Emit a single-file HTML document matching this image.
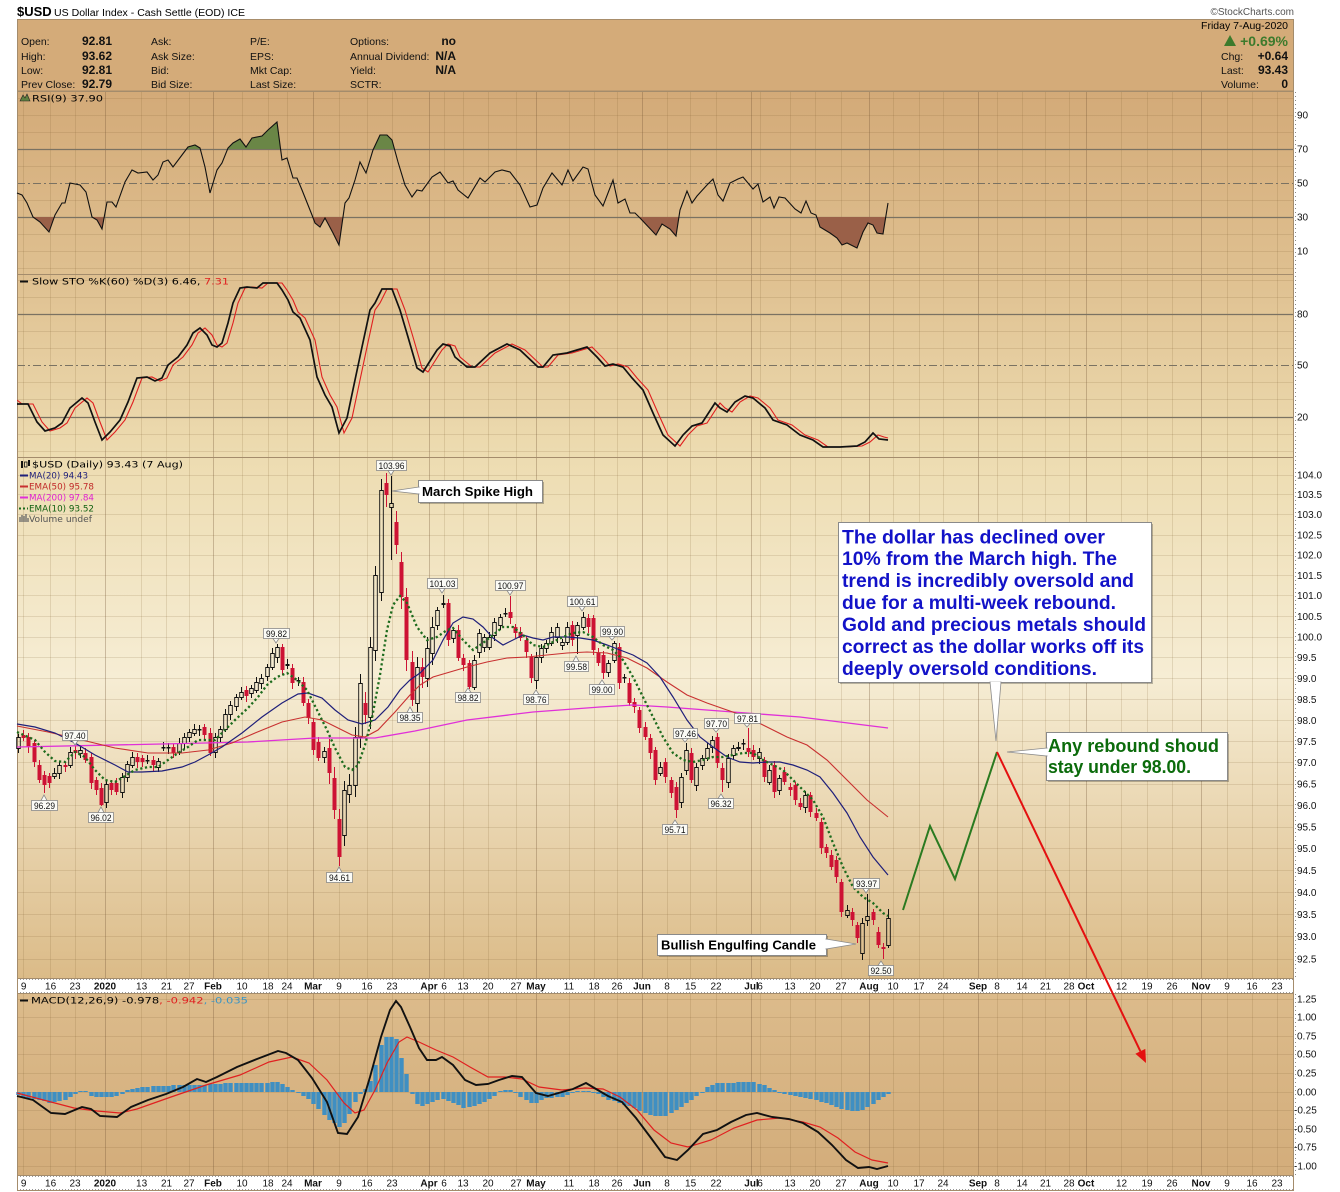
<!DOCTYPE html>
<html><head><meta charset="utf-8">
<style>
html,body{margin:0;padding:0;background:#fff;}
svg{display:block;}
text{font-family:"Liberation Sans",Arial,sans-serif;}
.lg{font-family:"DejaVu Sans","Liberation Sans",sans-serif;font-size:9px;}
.ax{font-size:10px;fill:#111;}
.dl{font-size:10px;fill:#111;text-anchor:middle;}
.db{font-size:10px;fill:#111;text-anchor:middle;font-weight:bold;}
.hd{font-size:10.5px;fill:#111;}
.hv{font-size:12px;fill:#111;font-weight:bold;text-anchor:end;}
.pl{font-size:9px;fill:#111;text-anchor:middle;}
</style></head><body>
<svg width="1340" height="1192" viewBox="0 0 1340 1192">
<defs>
<linearGradient id="gMain" x1="0" y1="91" x2="0" y2="978" gradientUnits="userSpaceOnUse">
<stop offset="0" stop-color="#d3aa78"/>
<stop offset="0.206" stop-color="#dfc090"/>
<stop offset="0.413" stop-color="#eddcb1"/>
<stop offset="0.66" stop-color="#f6edd4"/>
<stop offset="1" stop-color="#dbbb88"/>
</linearGradient>
<linearGradient id="gMacd" x1="0" y1="993" x2="0" y2="1175" gradientUnits="userSpaceOnUse">
<stop offset="0" stop-color="#dcbb8b"/><stop offset="1" stop-color="#d3ad7b"/>
</linearGradient>
<clipPath id="cRsiTop"><rect x="17" y="91" width="1276" height="58"/></clipPath>
<clipPath id="cRsiBot"><rect x="17" y="217" width="1276" height="57"/></clipPath>
<clipPath id="cSto"><rect x="17" y="274" width="872" height="183"/></clipPath>
</defs>

<!-- title -->
<text x="17" y="16" font-size="13" font-weight="bold">$USD</text>
<text x="54" y="16" font-size="10" textLength="191" lengthAdjust="spacingAndGlyphs">US Dollar Index - Cash Settle (EOD) ICE</text>
<text x="1294" y="15" font-size="10" text-anchor="end" fill="#555">©StockCharts.com</text>

<!-- header box -->
<rect x="17.5" y="19.5" width="1276" height="71.5" fill="#d4ab79" stroke="#a88d6b"/>
<g class="hd">
<text x="21" y="45">Open:</text><text x="21" y="60">High:</text><text x="21" y="74">Low:</text><text x="21" y="88">Prev Close:</text>
<text x="151" y="45">Ask:</text><text x="151" y="60">Ask Size:</text><text x="151" y="74">Bid:</text><text x="151" y="88">Bid Size:</text>
<text x="250" y="45">P/E:</text><text x="250" y="60">EPS:</text><text x="250" y="74">Mkt Cap:</text><text x="250" y="88">Last Size:</text>
<text x="350" y="45">Options:</text><text x="350" y="60">Annual Dividend:</text><text x="350" y="74">Yield:</text><text x="350" y="88">SCTR:</text>
</g>
<g class="hv">
<text x="112" y="45">92.81</text><text x="112" y="60">93.62</text><text x="112" y="74">92.81</text><text x="112" y="88">92.79</text>
<text x="456" y="45">no</text><text x="456" y="60">N/A</text><text x="456" y="74">N/A</text>
</g>
<text x="1288" y="29" font-size="10.5" text-anchor="end">Friday  7-Aug-2020</text>
<polygon points="1224,46 1236,46 1230,35" fill="#3c7a2c"/>
<text x="1288" y="46" font-size="14" font-weight="bold" text-anchor="end" fill="#3c7a2c">+0.69%</text>
<text x="1221" y="60" class="hd">Chg:</text><text x="1288" y="60" class="hv">+0.64</text>
<text x="1221" y="74" class="hd">Last:</text><text x="1288" y="74" class="hv">93.43</text>
<text x="1221" y="88" class="hd">Volume:</text><text x="1288" y="88" class="hv">0</text>

<!-- panel backgrounds -->
<rect x="17" y="91" width="1276" height="887" fill="url(#gMain)"/>
<rect x="17" y="993" width="1276" height="182" fill="url(#gMacd)"/>

<!-- vertical gridlines -->
<path fill="none" stroke="rgba(125,92,50,0.17)" stroke-width="1" d="M23.5 91V1175M50.5 91V1175M75.5 91V1175M141.5 91V1175M166.5 91V1175M189.5 91V1175M242.5 91V1175M268.5 91V1175M287.5 91V1175M339.5 91V1175M367.5 91V1175M392.5 91V1175M444.5 91V1175M463.5 91V1175M488.5 91V1175M516.5 91V1175M569.5 91V1175M594.5 91V1175M617.5 91V1175M667.5 91V1175M690.5 91V1175M716.5 91V1175M760.5 91V1175M790.5 91V1175M815.5 91V1175M841.5 91V1175M893.5 91V1175M919.5 91V1175M943.5 91V1175M997.5 91V1175M1022.5 91V1175M1045.5 91V1175M1069.5 91V1175M1121.5 91V1175M1147.5 91V1175M1172.5 91V1175M1227.5 91V1175M1252.5 91V1175M1277.5 91V1175"/>
<path fill="none" stroke="rgba(115,85,55,0.33)" stroke-width="1" d="M105.5 91V1175M213.5 91V1175M313.5 91V1175M429.5 91V1175M536.5 91V1175M642.5 91V1175M751.5 91V1175M869.5 91V1175M978.5 91V1175M1086.5 91V1175M1201.5 91V1175"/>

<!-- horizontal gridlines -->
<path fill="none" stroke="rgba(125,92,50,0.16)" stroke-width="1" d="M17 98.5H1293M17 115.5H1293M17 132.5H1293M17 166.5H1293M17 200.5H1293M17 234.5H1293M17 251.5H1293M17 268.5H1293
M17 280.5H1293M17 297.5H1293M17 331.5H1293M17 348.5H1293M17 382.5H1293M17 399.5H1293M17 434.5H1293M17 451.5H1293
M17 475.5H1293M17 494.5H1293M17 514.5H1293M17 535.5H1293M17 555.5H1293M17 575.5H1293M17 595.5H1293M17 616.5H1293M17 637.5H1293M17 657.5H1293M17 678.5H1293M17 699.5H1293M17 720.5H1293M17 741.5H1293M17 762.5H1293M17 784.5H1293M17 805.5H1293M17 827.5H1293M17 848.5H1293M17 870.5H1293M17 892.5H1293M17 914.5H1293M17 936.5H1293M17 959.5H1293
M17 999.5H1293M17 1017.5H1293M17 1036.5H1293M17 1054.5H1293M17 1073.5H1293M17 1092.5H1293M17 1110.5H1293M17 1129.5H1293M17 1147.5H1293M17 1166.5H1293"/>
<path fill="none" stroke="#7a7262" stroke-width="1.2" d="M17 149.5H1293M17 217.5H1293M17 314.5H1293M17 417.5H1293"/>
<path fill="none" stroke="#7a7262" stroke-width="1.1" stroke-dasharray="8,3,2,3" d="M17 183.5H1293M17 365.5H1293"/>

<!-- date bands -->
<rect x="17" y="978.5" width="1276" height="14" fill="#fff"/>
<rect x="17" y="1175.5" width="1276" height="14" fill="#fff"/>
<path fill="none" stroke="#999" stroke-dasharray="1,2" d="M17 979.5H1293M17 992.5H1293M17 1176.5H1293M17 1189.5H1293"/>

<!-- borders -->
<path fill="none" stroke="#a48c6c" stroke-width="1" d="M17 91.5H1293M17 274.5H1293M17 457.5H1293M17 978.5H1293M17 993.5H1293M17 1175.5H1293M17 1190.5H1293M17.5 19V1191M1293.5 19V1191"/>
<path fill="none" stroke="#888" stroke-dasharray="1,3" d="M1295.5 92V978M1295.5 994V1175"/>

<!-- right axis labels -->
<g class="ax">
<text x="1297" y="118.5">90</text><text x="1297" y="152.5">70</text><text x="1297" y="186.5">50</text><text x="1297" y="220.5">30</text><text x="1297" y="254.5">10</text>
<text x="1297" y="317.5">80</text><text x="1297" y="368.5">50</text><text x="1297" y="420.5">20</text>
<text x="1297" y="478.5">104.0</text><text x="1297" y="498">103.5</text><text x="1297" y="518">103.0</text><text x="1297" y="538.5">102.5</text><text x="1297" y="558.5">102.0</text><text x="1297" y="579">101.5</text><text x="1297" y="599">101.0</text><text x="1297" y="620">100.5</text><text x="1297" y="640.5">100.0</text><text x="1297" y="661">99.5</text><text x="1297" y="682">99.0</text><text x="1297" y="703">98.5</text><text x="1297" y="724">98.0</text><text x="1297" y="745">97.5</text><text x="1297" y="766">97.0</text><text x="1297" y="787.5">96.5</text><text x="1297" y="809">96.0</text><text x="1297" y="830.5">95.5</text><text x="1297" y="852">95.0</text><text x="1297" y="874">94.5</text><text x="1297" y="896">94.0</text><text x="1297" y="918">93.5</text><text x="1297" y="940">93.0</text><text x="1297" y="962.5">92.5</text>
<text x="1297" y="1002.5">1.25</text><text x="1297" y="1020.5">1.00</text><text x="1297" y="1039.5">0.75</text><text x="1297" y="1057.5">0.50</text><text x="1297" y="1076.5">0.25</text><text x="1297" y="1095.5">0.00</text><text x="1294" y="1113.5">-0.25</text><text x="1294" y="1132.5">-0.50</text><text x="1294" y="1150.5">-0.75</text><text x="1294" y="1169.5">-1.00</text>
</g>

<!-- date labels top -->
<g>
<text class="dl" x="23.6" y="989.5">9</text><text class="dl" x="50.6" y="989.5">16</text><text class="dl" x="75" y="989.5">23</text><text class="db" x="105" y="989.5">2020</text><text class="dl" x="141.6" y="989.5">13</text><text class="dl" x="166.5" y="989.5">21</text><text class="dl" x="189" y="989.5">27</text><text class="db" x="213" y="989.5">Feb</text><text class="dl" x="242" y="989.5">10</text><text class="dl" x="268" y="989.5">18</text><text class="dl" x="287" y="989.5">24</text><text class="db" x="313" y="989.5">Mar</text><text class="dl" x="339" y="989.5">9</text><text class="dl" x="367" y="989.5">16</text><text class="dl" x="392" y="989.5">23</text><text class="db" x="429" y="989.5">Apr</text><text class="dl" x="444" y="989.5">6</text><text class="dl" x="463" y="989.5">13</text><text class="dl" x="488" y="989.5">20</text><text class="dl" x="516" y="989.5">27</text><text class="db" x="536" y="989.5">May</text><text class="dl" x="569" y="989.5">11</text><text class="dl" x="594" y="989.5">18</text><text class="dl" x="617" y="989.5">26</text><text class="db" x="642" y="989.5">Jun</text><text class="dl" x="667" y="989.5">8</text><text class="dl" x="690.6" y="989.5">15</text><text class="dl" x="716" y="989.5">22</text><text class="db" x="751.5" y="989.5">Jul</text><text class="dl" x="760" y="989.5">6</text><text class="dl" x="790" y="989.5">13</text><text class="dl" x="815" y="989.5">20</text><text class="dl" x="841" y="989.5">27</text><text class="db" x="869" y="989.5">Aug</text><text class="dl" x="893" y="989.5">10</text><text class="dl" x="919" y="989.5">17</text><text class="dl" x="943" y="989.5">24</text><text class="db" x="978" y="989.5">Sep</text><text class="dl" x="997" y="989.5">8</text><text class="dl" x="1022" y="989.5">14</text><text class="dl" x="1045.5" y="989.5">21</text><text class="dl" x="1069" y="989.5">28</text><text class="db" x="1086" y="989.5">Oct</text><text class="dl" x="1121.5" y="989.5">12</text><text class="dl" x="1147" y="989.5">19</text><text class="dl" x="1172" y="989.5">26</text><text class="db" x="1201" y="989.5">Nov</text><text class="dl" x="1227" y="989.5">9</text><text class="dl" x="1252" y="989.5">16</text><text class="dl" x="1277" y="989.5">23</text>
</g>
<!-- date labels bottom -->
<g>
<text class="dl" x="23.6" y="1186.5">9</text><text class="dl" x="50.6" y="1186.5">16</text><text class="dl" x="75" y="1186.5">23</text><text class="db" x="105" y="1186.5">2020</text><text class="dl" x="141.6" y="1186.5">13</text><text class="dl" x="166.5" y="1186.5">21</text><text class="dl" x="189" y="1186.5">27</text><text class="db" x="213" y="1186.5">Feb</text><text class="dl" x="242" y="1186.5">10</text><text class="dl" x="268" y="1186.5">18</text><text class="dl" x="287" y="1186.5">24</text><text class="db" x="313" y="1186.5">Mar</text><text class="dl" x="339" y="1186.5">9</text><text class="dl" x="367" y="1186.5">16</text><text class="dl" x="392" y="1186.5">23</text><text class="db" x="429" y="1186.5">Apr</text><text class="dl" x="444" y="1186.5">6</text><text class="dl" x="463" y="1186.5">13</text><text class="dl" x="488" y="1186.5">20</text><text class="dl" x="516" y="1186.5">27</text><text class="db" x="536" y="1186.5">May</text><text class="dl" x="569" y="1186.5">11</text><text class="dl" x="594" y="1186.5">18</text><text class="dl" x="617" y="1186.5">26</text><text class="db" x="642" y="1186.5">Jun</text><text class="dl" x="667" y="1186.5">8</text><text class="dl" x="690.6" y="1186.5">15</text><text class="dl" x="716" y="1186.5">22</text><text class="db" x="751.5" y="1186.5">Jul</text><text class="dl" x="760" y="1186.5">6</text><text class="dl" x="790" y="1186.5">13</text><text class="dl" x="815" y="1186.5">20</text><text class="dl" x="841" y="1186.5">27</text><text class="db" x="869" y="1186.5">Aug</text><text class="dl" x="893" y="1186.5">10</text><text class="dl" x="919" y="1186.5">17</text><text class="dl" x="943" y="1186.5">24</text><text class="db" x="978" y="1186.5">Sep</text><text class="dl" x="997" y="1186.5">8</text><text class="dl" x="1022" y="1186.5">14</text><text class="dl" x="1045.5" y="1186.5">21</text><text class="dl" x="1069" y="1186.5">28</text><text class="db" x="1086" y="1186.5">Oct</text><text class="dl" x="1121.5" y="1186.5">12</text><text class="dl" x="1147" y="1186.5">19</text><text class="dl" x="1172" y="1186.5">26</text><text class="db" x="1201" y="1186.5">Nov</text><text class="dl" x="1227" y="1186.5">9</text><text class="dl" x="1252" y="1186.5">16</text><text class="dl" x="1277" y="1186.5">23</text>
</g>

<!-- RSI panel -->
<g clip-path="url(#cRsiTop)"><polygon fill="#6a8646" points="17,193 22,195 27,203 33,217 40,222 49,232 55,215 62,203 65,203 70,183 75,184 80,185 86,192 92,217 97,220 102,229 107,202 112,202 116,207 125,182 132,170 138,173 147,172 153,180 158,175 163,162 168,160 173,167 182,155 188,147 195,145 200,148 205,167 210,193 217,170 222,163 228,148 233,143 240,139 246,147 252,138 262,136 268,130 277,122 282,160 287,158 293,178 297,178 302,190 312,215 315,223 320,227 325,218 333,233 339,245 345,203 349,198 355,180 360,162 366,173 373,150 380,135 387,135 392,140 398,162 405,185 412,197 417,190 422,191 432,177 440,172 448,183 453,181 458,190 468,198 480,178 485,182 495,172 502,170 510,172 520,185 530,207 537,205 543,188 552,173 562,185 568,170 573,181 583,167 588,169 595,195 603,206 613,180 618,203 625,199 630,213 635,213 640,218 656,235 662,224 670,229 676,236 680,210 687,191 692,203 697,196 707,185 713,179 718,195 723,201 730,183 738,179 743,177 753,189 758,184 763,202 770,197 774,208 779,197 785,198 795,209 801,213 806,201 811,213 816,215 820,227 830,233 837,238 842,245 847,243 857,248 863,232 868,223 873,225 877,233 883,234 888,203 888,149 17,149"/></g>
<g clip-path="url(#cRsiBot)"><polygon fill="#9a6048" points="17,193 22,195 27,203 33,217 40,222 49,232 55,215 62,203 65,203 70,183 75,184 80,185 86,192 92,217 97,220 102,229 107,202 112,202 116,207 125,182 132,170 138,173 147,172 153,180 158,175 163,162 168,160 173,167 182,155 188,147 195,145 200,148 205,167 210,193 217,170 222,163 228,148 233,143 240,139 246,147 252,138 262,136 268,130 277,122 282,160 287,158 293,178 297,178 302,190 312,215 315,223 320,227 325,218 333,233 339,245 345,203 349,198 355,180 360,162 366,173 373,150 380,135 387,135 392,140 398,162 405,185 412,197 417,190 422,191 432,177 440,172 448,183 453,181 458,190 468,198 480,178 485,182 495,172 502,170 510,172 520,185 530,207 537,205 543,188 552,173 562,185 568,170 573,181 583,167 588,169 595,195 603,206 613,180 618,203 625,199 630,213 635,213 640,218 656,235 662,224 670,229 676,236 680,210 687,191 692,203 697,196 707,185 713,179 718,195 723,201 730,183 738,179 743,177 753,189 758,184 763,202 770,197 774,208 779,197 785,198 795,209 801,213 806,201 811,213 816,215 820,227 830,233 837,238 842,245 847,243 857,248 863,232 868,223 873,225 877,233 883,234 888,203 888,217 17,217"/></g>
<polyline fill="none" stroke="#111" stroke-width="1.1" points="17,193 22,195 27,203 33,217 40,222 49,232 55,215 62,203 65,203 70,183 75,184 80,185 86,192 92,217 97,220 102,229 107,202 112,202 116,207 125,182 132,170 138,173 147,172 153,180 158,175 163,162 168,160 173,167 182,155 188,147 195,145 200,148 205,167 210,193 217,170 222,163 228,148 233,143 240,139 246,147 252,138 262,136 268,130 277,122 282,160 287,158 293,178 297,178 302,190 312,215 315,223 320,227 325,218 333,233 339,245 345,203 349,198 355,180 360,162 366,173 373,150 380,135 387,135 392,140 398,162 405,185 412,197 417,190 422,191 432,177 440,172 448,183 453,181 458,190 468,198 480,178 485,182 495,172 502,170 510,172 520,185 530,207 537,205 543,188 552,173 562,185 568,170 573,181 583,167 588,169 595,195 603,206 613,180 618,203 625,199 630,213 635,213 640,218 656,235 662,224 670,229 676,236 680,210 687,191 692,203 697,196 707,185 713,179 718,195 723,201 730,183 738,179 743,177 753,189 758,184 763,202 770,197 774,208 779,197 785,198 795,209 801,213 806,201 811,213 816,215 820,227 830,233 837,238 842,245 847,243 857,248 863,232 868,223 873,225 877,233 883,234 888,203"/>
<polygon points="20,101 23,95 25,98 27,94 30,101" fill="#5f8040" stroke="#222" stroke-width="0.6"/>
<text class="lg" x="32" y="101.5" textLength="71" lengthAdjust="spacingAndGlyphs">RSI(9) 37.90</text>

<!-- STO panel -->
<g clip-path="url(#cSto)">
<polyline transform="translate(5,0)" fill="none" stroke="#e02020" stroke-width="1.1" points="12,400 17,404 28,404 37,422 45,431 55,428 62,423 70,408 82,398 88,403 95,422 102,440 110,432 120,420 128,402 137,378 147,377 155,381 162,378 168,365 178,357 187,345 193,333 200,328 207,335 212,345 217,347 222,343 228,323 233,303 240,288 247,287 257,288 263,283 277,283 282,290 288,300 293,312 300,318 310,340 317,377 325,395 332,407 339,433 347,418 355,380 362,347 370,310 375,303 382,289 392,289 400,310 408,337 417,368 423,372 430,361 437,350 443,344 450,346 455,357 467,367 475,367 490,353 507,344 520,350 538,367 543,367 553,355 567,353 577,350 587,347 597,357 605,366 613,364 623,367 632,378 643,390 653,413 663,435 675,446 683,435 692,426 702,423 715,403 720,408 727,412 735,402 745,396 753,398 765,408 773,420 787,425 800,435 813,440 823,447 840,447 857,446 865,442 873,435 879,437 883,438"/>
</g>
<polyline fill="none" stroke="#111" stroke-width="1.7" points="17,404 28,404 37,422 45,431 55,428 62,423 70,408 82,398 88,403 95,422 102,440 110,432 120,420 128,402 137,378 147,377 155,381 162,378 168,365 178,357 187,345 193,333 200,328 207,335 212,345 217,347 222,343 228,323 233,303 240,288 247,287 257,288 263,283 277,283 282,290 288,300 293,312 300,318 310,340 317,377 325,395 332,407 339,433 347,418 355,380 362,347 370,310 375,303 382,289 392,289 400,310 408,337 417,368 423,372 430,361 437,350 443,344 450,346 455,357 467,367 475,367 490,353 507,344 520,350 538,367 543,367 553,355 567,353 577,350 587,347 597,357 605,366 613,364 623,367 632,378 643,390 653,413 663,435 675,446 683,435 692,426 702,423 715,403 720,408 727,412 735,402 745,396 753,398 765,408 773,420 787,425 800,435 813,440 823,447 840,447 857,446 865,442 873,433 879,439 888,440"/>
<line x1="20" y1="281.5" x2="28" y2="281.5" stroke="#111" stroke-width="2"/>
<text class="lg" x="32" y="284.5" textLength="197" lengthAdjust="spacingAndGlyphs">Slow STO %K(60) %D(3) 6.46, <tspan fill="#e02020">7.31</tspan></text>

<!-- candles: red -->
<path fill="none" stroke="#cd1234" stroke-width="1" d="M23.5 730V741M28.5 733V753M34.5 740V767M39.5 760V783M44.5 771V793M49.5 773V788M65.5 762V772M75.5 746V759M85.5 748V763M91.5 753V789M96.5 777V795M101.5 783V806M111.5 780V795M116.5 778V795M137.5 753V768M142.5 755V767M153.5 756V771M173.5 744V758M204.5 724V740M210.5 728V756M246.5 686V702M282.5 644V675M292.5 664V689M303.5 677V706M308.5 699V724M313.5 719V755M318.5 737V761M329.5 739V784M334.5 767V819M339.5 809V866M365.5 692V724M386.5 473V507M396.5 511V554M401.5 552V609M406.5 588V671M412.5 651V706M422.5 658V688M448.5 599V646M458.5 625V661M463.5 654V671M469.5 660V689M510.5 596V624M515.5 624V638M520.5 627V641M526.5 636V658M531.5 654V683M572.5 621V646M588.5 614V633M593.5 615V655M598.5 648V666M603.5 651V679M619.5 643V689M629.5 678V706M634.5 698V713M639.5 707V733M645.5 722V740M650.5 734V759M655.5 747V785M665.5 758V783M671.5 777V798M676.5 782V818M691.5 748V783M717.5 733V768M722.5 763V792M748.5 728V757M753.5 745V760M764.5 757V782M774.5 761V798M784.5 767V785M790.5 783V796M795.5 782V805M800.5 798V810M810.5 792V817M816.5 808V821M821.5 818V854M826.5 844V858M831.5 850V870M836.5 856V883M841.5 879V917M852.5 908V926M857.5 922V943M873.5 909V925M878.5 927V948M883.5 943V959"/>
<path fill="none" stroke="#cd1234" stroke-width="4" d="M23.5 735V738M28.5 737V747M34.5 743V762M39.5 765V780M44.5 775V785M49.5 776V783M65.5 765V767M75.5 750V753M85.5 753V760M91.5 757V783M96.5 780V790M101.5 788V805M111.5 783V790M116.5 783V792M137.5 757V762M142.5 758V762M153.5 760V765M173.5 747V753M204.5 727V735M210.5 733V753M246.5 690V696M282.5 647V670M292.5 668V683M303.5 682V703M308.5 703V718M313.5 722V750M318.5 742V758M329.5 748V773M334.5 778V810M339.5 819V857M365.5 703V715M386.5 483V495M396.5 522V545M401.5 562V597M406.5 597V660M412.5 662V700M422.5 667V677M448.5 603V640M458.5 630V658M463.5 658V665M469.5 663V687M510.5 612V618M515.5 627V633M520.5 632V638M526.5 640V652M531.5 657V678M572.5 625V640M588.5 618V627M593.5 618V650M598.5 653V663M603.5 655V673M619.5 647V683M629.5 683V703M634.5 702V707M639.5 710V728M645.5 727V737M650.5 738V753M655.5 750V780M665.5 762V777M671.5 780V793M676.5 787V810M691.5 753V780M717.5 737V763M722.5 768V780M748.5 748V752M753.5 750V757M764.5 760V777M774.5 765V792M784.5 772V782M790.5 787V790M795.5 785V800M800.5 803V807M810.5 795V812M816.5 813V818M821.5 822V848M826.5 847V853M831.5 855V867M836.5 860V877M841.5 882V912M852.5 912V920M857.5 925V938M873.5 912V920M878.5 932V945M883.5 947V949"/>
<!-- candles: black filled -->
<path fill="none" stroke="#111" stroke-width="1" d="M147.5 755V764M163.5 742V751M168.5 743V754M199.5 725V736M287.5 659V669M298.5 677V686M443.5 595V608M505.5 608V617M624.5 674V683M743.5 739V750"/>
<path fill="none" stroke="#111" stroke-width="4" d="M147.5 760V761.5M163.5 747V748.5M168.5 747V748.5M199.5 729V730.5M287.5 664V666M298.5 680V681.5M443.5 603V605M505.5 613V614.5M624.5 677V678.5M743.5 743V744.5"/>
<!-- candles: hollow -->
<path fill="none" stroke="#111" stroke-width="1" d="M18.5 734V737M18.5 748V753M54.5 768V773M54.5 776V779M59.5 761V765M59.5 773V779M70.5 747V752M70.5 765V768M80.5 747V750M80.5 753V758M106.5 780V784M106.5 802V808M122.5 773V777M122.5 792V798M127.5 761V764M127.5 777V782M132.5 752V757M132.5 765V768M158.5 758V761M158.5 767V772M179.5 738V743M179.5 752V755M184.5 733V737M184.5 743V749M189.5 729V732M189.5 737V742M194.5 724V729M194.5 733V736M215.5 733V737M215.5 752V758M220.5 726V729M220.5 737V742M225.5 709V714M225.5 729V732M230.5 701V705M230.5 714V720M236.5 694V697M236.5 706V711M241.5 687V692M241.5 697V700M251.5 685V688M251.5 693V698M256.5 677V682M256.5 690V693M261.5 674V678M261.5 683V689M267.5 664V667M267.5 676V681M272.5 648V653M272.5 667V670M277.5 644V647M277.5 657V663M324.5 747V751M324.5 757V763M344.5 781V790M344.5 835V846M349.5 774V785M349.5 794V803M355.5 727V737M355.5 785V797M360.5 674V683M360.5 737V748M370.5 637V647M370.5 717V729M375.5 566V575M375.5 650V661M381.5 479V490M381.5 592V601M391.5 476V503M391.5 507V560M417.5 657V667M417.5 703V715M427.5 637V648M427.5 678V687M432.5 617V627M432.5 653V665M437.5 607V610M437.5 625V630M453.5 627V630M453.5 638V643M474.5 655V660M474.5 687V690M479.5 629V633M479.5 652V658M484.5 634V637M484.5 647V652M489.5 632V637M489.5 647V650M494.5 618V622M494.5 635V641M500.5 614V617M500.5 625V630M536.5 652V657M536.5 680V689M541.5 644V648M541.5 657V663M546.5 640V643M546.5 648V653M551.5 627V632M551.5 643V646M557.5 623V627M557.5 637V643M562.5 639V642M562.5 645V650M567.5 622V627M567.5 642V645M577.5 622V625M577.5 635V654M583.5 612V617M583.5 627V630M608.5 660V663M608.5 672V677M614.5 641V643M614.5 660V663M660.5 762V767M660.5 773V776M681.5 773V777M681.5 802V808M686.5 743V750M686.5 770V775M696.5 763V767M696.5 785V791M702.5 755V758M702.5 765V770M707.5 743V748M707.5 758V761M712.5 736V740M712.5 747V753M728.5 754V758M728.5 782V788M733.5 745V748M733.5 755V760M738.5 742V747M738.5 748V751M759.5 748V752M759.5 758V764M769.5 765V770M769.5 782V785M779.5 775V778M779.5 790V795M805.5 791V795M805.5 807V813M847.5 905V910M847.5 915V918M862.5 918V923M862.5 953V960M867.5 894V916M867.5 920V926M888.5 909V918M888.5 945V948"/>
<path fill="none" stroke="#111" stroke-width="0.9" d="M16.7 737.5h3.6v11h-3.6zM52.7 773.5h3.6v3h-3.6zM57.7 765.5h3.6v8h-3.6zM68.7 752.5h3.6v13h-3.6zM78.7 750.5h3.6v3h-3.6zM104.7 784.5h3.6v18h-3.6zM120.7 777.5h3.6v15h-3.6zM125.7 764.5h3.6v13h-3.6zM130.7 757.5h3.6v8h-3.6zM156.7 761.5h3.6v6h-3.6zM177.7 743.5h3.6v9h-3.6zM182.7 737.5h3.6v6h-3.6zM187.7 732.5h3.6v5h-3.6zM192.7 729.5h3.6v4h-3.6zM213.7 737.5h3.6v15h-3.6zM218.7 729.5h3.6v8h-3.6zM223.7 714.5h3.6v15h-3.6zM228.7 705.5h3.6v9h-3.6zM234.7 697.5h3.6v9h-3.6zM239.7 692.5h3.6v5h-3.6zM249.7 688.5h3.6v5h-3.6zM254.7 682.5h3.6v8h-3.6zM259.7 678.5h3.6v5h-3.6zM265.7 667.5h3.6v9h-3.6zM270.7 653.5h3.6v14h-3.6zM275.7 647.5h3.6v10h-3.6zM322.7 751.5h3.6v6h-3.6zM342.7 790.5h3.6v45h-3.6zM347.7 785.5h3.6v9h-3.6zM353.7 737.5h3.6v48h-3.6zM358.7 683.5h3.6v54h-3.6zM368.7 647.5h3.6v70h-3.6zM373.7 575.5h3.6v75h-3.6zM379.7 490.5h3.6v102h-3.6zM389.7 503.5h3.6v4h-3.6zM415.7 667.5h3.6v36h-3.6zM425.7 648.5h3.6v30h-3.6zM430.7 627.5h3.6v26h-3.6zM435.7 610.5h3.6v15h-3.6zM451.7 630.5h3.6v8h-3.6zM472.7 660.5h3.6v27h-3.6zM477.7 633.5h3.6v19h-3.6zM482.7 637.5h3.6v10h-3.6zM487.7 637.5h3.6v10h-3.6zM492.7 622.5h3.6v13h-3.6zM498.7 617.5h3.6v8h-3.6zM534.7 657.5h3.6v23h-3.6zM539.7 648.5h3.6v9h-3.6zM544.7 643.5h3.6v5h-3.6zM549.7 632.5h3.6v11h-3.6zM555.7 627.5h3.6v10h-3.6zM560.7 642.5h3.6v3h-3.6zM565.7 627.5h3.6v15h-3.6zM575.7 625.5h3.6v10h-3.6zM581.7 617.5h3.6v10h-3.6zM606.7 663.5h3.6v9h-3.6zM612.7 643.5h3.6v17h-3.6zM658.7 767.5h3.6v6h-3.6zM679.7 777.5h3.6v25h-3.6zM684.7 750.5h3.6v20h-3.6zM694.7 767.5h3.6v18h-3.6zM700.7 758.5h3.6v7h-3.6zM705.7 748.5h3.6v10h-3.6zM710.7 740.5h3.6v7h-3.6zM726.7 758.5h3.6v24h-3.6zM731.7 748.5h3.6v7h-3.6zM736.7 747.5h3.6v1h-3.6zM757.7 752.5h3.6v6h-3.6zM767.7 770.5h3.6v12h-3.6zM777.7 778.5h3.6v12h-3.6zM803.7 795.5h3.6v12h-3.6zM845.7 910.5h3.6v5h-3.6zM860.7 923.5h3.6v30h-3.6zM865.7 916.5h3.6v4h-3.6zM886.7 918.5h3.6v27h-3.6z"/>

<!-- moving averages -->
<polyline fill="none" stroke="#e030d8" stroke-width="1.3" points="17,747 162,744 248,742 315,738 375,738 415,731 467,720 533,712 600,707 633,705 667,707 733,712 800,717 888,728"/>
<polyline fill="none" stroke="#c83030" stroke-width="1.1" points="17,726 48,732 82,740 115,748 148,753 182,753 208,750 232,743 255,733 282,722 305,717 322,720 338,728 352,735 365,737 378,730 395,712 410,695 420,685 433,677 450,672 467,667 487,662 507,658 527,657 547,655 567,653 587,652 607,653 627,658 647,668 667,682 687,695 707,703 727,710 747,717 767,727 787,737 807,745 827,760 847,780 867,800 888,817"/>
<polyline fill="none" stroke="#1f1f7a" stroke-width="1.2" points="17,724 35,727 55,733 75,743 95,755 115,765 128,772 142,772 162,771 182,767 195,762 208,755 222,747 242,733 262,717 282,703 298,694 308,693 322,698 335,710 348,720 362,724 375,720 388,707 400,690 410,680 420,673 433,660 443,640 453,623 463,617 473,619 483,627 493,638 503,645 513,640 523,635 533,638 543,640 553,637 567,637 580,638 593,640 607,645 620,650 633,655 647,663 660,677 673,697 687,720 700,737 713,747 727,757 740,762 753,763 767,762 780,762 793,765 807,770 820,777 833,793 847,813 860,837 873,857 888,875"/>
<polyline fill="none" stroke="#1d6b1d" stroke-width="2.3" stroke-dasharray="2.2,2.6" points="17,732 35,740 45,752 55,761 65,762 75,752 85,757 95,770 105,780 115,782 125,776 135,770 148,767 158,767 168,760 178,753 188,747 198,740 208,740 215,740 225,730 235,720 248,708 258,697 267,685 277,677 287,673 297,680 307,690 317,710 327,730 335,748 345,767 352,770 358,765 365,745 372,718 380,675 387,630 393,605 400,596 407,603 417,627 427,640 437,637 447,630 453,628 463,640 473,650 483,643 493,635 503,627 513,627 523,635 533,645 543,647 553,642 563,637 573,633 583,632 593,637 603,645 613,650 623,660 633,677 643,697 653,717 663,737 673,753 683,760 693,762 703,760 713,757 723,757 733,755 743,753 753,753 763,760 773,765 783,770 793,780 803,790 813,800 823,817 833,843 843,867 853,887 863,897 873,903 883,913 888,916"/>

<!-- price legend -->
<rect x="21" y="461" width="2" height="7" fill="#111"/><rect x="24.5" y="462" width="2.5" height="5" fill="none" stroke="#111" stroke-width="0.8"/><rect x="28" y="460" width="2" height="6" fill="#111"/>
<text class="lg" x="32" y="467.5" textLength="151" lengthAdjust="spacingAndGlyphs">$USD (Daily) 93.43 (7 Aug)</text>
<line x1="20" y1="475.5" x2="28" y2="475.5" stroke="#1f1f7a" stroke-width="2"/>
<text class="lg" x="29" y="478.5" fill="#1f1f7a" textLength="59" lengthAdjust="spacingAndGlyphs">MA(20) 94.43</text>
<line x1="20" y1="486.5" x2="28" y2="486.5" stroke="#c83030" stroke-width="2"/>
<text class="lg" x="29" y="489.5" fill="#c02828" textLength="65" lengthAdjust="spacingAndGlyphs">EMA(50) 95.78</text>
<line x1="20" y1="497.5" x2="28" y2="497.5" stroke="#e030d8" stroke-width="2"/>
<text class="lg" x="29" y="500.5" fill="#e020d0" textLength="65" lengthAdjust="spacingAndGlyphs">MA(200) 97.84</text>
<line x1="19" y1="508.5" x2="28" y2="508.5" stroke="#1d6b1d" stroke-width="2" stroke-dasharray="2,2"/>
<text class="lg" x="29" y="511.5" fill="#106010" textLength="65" lengthAdjust="spacingAndGlyphs">EMA(10) 93.52</text>
<path d="M20 522V517M22 522V515M24 522V516M26 522V514M28 522V518" stroke="#666" stroke-width="1.3"/>
<text class="lg" x="29" y="522" fill="#555" textLength="63" lengthAdjust="spacingAndGlyphs">Volume undef</text>

<!-- price labels -->
<g stroke="#8a8a8a" stroke-width="0.8" fill="#fbfbf6">
<rect x="376.5" y="460.5" width="30" height="10"/><polygon points="388,470.5 391,475 394,470.5"/>
<rect x="62.5" y="730.5" width="25" height="10"/><polygon points="72,740.5 75,745 78,740.5"/>
<rect x="31.5" y="800.5" width="26" height="10"/><polygon points="41,800.5 44,795 47,800.5"/>
<rect x="88.5" y="812.5" width="25" height="10"/><polygon points="98,812.5 101,807 104,812.5"/>
<rect x="263.5" y="628.5" width="26" height="10"/><polygon points="273,638.5 276,643 279,638.5"/>
<rect x="326.5" y="872.5" width="26" height="10"/><polygon points="336,872.5 339,867 342,872.5"/>
<rect x="397.5" y="712.5" width="25" height="10"/><polygon points="407,712.5 410,707 413,712.5"/>
<rect x="427.5" y="578.5" width="30" height="10"/><polygon points="439,588.5 442,593 445,588.5"/>
<rect x="495.5" y="580.5" width="30" height="10"/><polygon points="507,590.5 510,595 513,590.5"/>
<rect x="567.5" y="596.5" width="30" height="10"/><polygon points="579,606.5 582,611 585,606.5"/>
<rect x="600.5" y="626.5" width="24" height="10"/><polygon points="609,636.5 612,640 615,636.5"/>
<rect x="564.5" y="661.5" width="24" height="10"/><polygon points="573,661.5 576,656 579,661.5"/>
<rect x="589.5" y="684.5" width="25" height="10"/><polygon points="599,684.5 602,680 605,684.5"/>
<rect x="455.5" y="692.5" width="25" height="10"/><polygon points="465,692.5 468,688 471,692.5"/>
<rect x="523.5" y="694.5" width="25" height="10"/><polygon points="533,694.5 536,690 539,694.5"/>
<rect x="673.5" y="728.5" width="24" height="10"/><polygon points="682,738.5 685,742 688,738.5"/>
<rect x="704.5" y="718.5" width="24" height="10"/><polygon points="713,728.5 716,732 719,728.5"/>
<rect x="734.5" y="713.5" width="26" height="10"/><polygon points="744,723.5 747,727 750,723.5"/>
<rect x="708.5" y="798.5" width="25" height="10"/><polygon points="718,798.5 721,794 724,798.5"/>
<rect x="662.5" y="824.5" width="25" height="10"/><polygon points="672,824.5 675,820 678,824.5"/>
<rect x="853.5" y="878.5" width="26" height="10"/><polygon points="863,888.5 866,893 869,888.5"/>
<rect x="868.5" y="965.5" width="25" height="10"/><polygon points="878,965.5 881,961 884,965.5"/>
</g>
<g class="pl">
<text x="391.5" y="469" textLength="26" lengthAdjust="spacingAndGlyphs">103.96</text>
<text x="75" y="739" textLength="21" lengthAdjust="spacingAndGlyphs">97.40</text>
<text x="44.5" y="809" textLength="21" lengthAdjust="spacingAndGlyphs">96.29</text>
<text x="101" y="821" textLength="21" lengthAdjust="spacingAndGlyphs">96.02</text>
<text x="276.5" y="637" textLength="21" lengthAdjust="spacingAndGlyphs">99.82</text>
<text x="339.5" y="881" textLength="21" lengthAdjust="spacingAndGlyphs">94.61</text>
<text x="410" y="721" textLength="21" lengthAdjust="spacingAndGlyphs">98.35</text>
<text x="442.5" y="587" textLength="26" lengthAdjust="spacingAndGlyphs">101.03</text>
<text x="510.5" y="589" textLength="26" lengthAdjust="spacingAndGlyphs">100.97</text>
<text x="582.5" y="605" textLength="26" lengthAdjust="spacingAndGlyphs">100.61</text>
<text x="612.5" y="635" textLength="21" lengthAdjust="spacingAndGlyphs">99.90</text>
<text x="576.5" y="670" textLength="21" lengthAdjust="spacingAndGlyphs">99.58</text>
<text x="602" y="693" textLength="21" lengthAdjust="spacingAndGlyphs">99.00</text>
<text x="468" y="701" textLength="21" lengthAdjust="spacingAndGlyphs">98.82</text>
<text x="536" y="703" textLength="21" lengthAdjust="spacingAndGlyphs">98.76</text>
<text x="685.5" y="737" textLength="21" lengthAdjust="spacingAndGlyphs">97.46</text>
<text x="716.5" y="727" textLength="21" lengthAdjust="spacingAndGlyphs">97.70</text>
<text x="747.5" y="722" textLength="21" lengthAdjust="spacingAndGlyphs">97.81</text>
<text x="721" y="807" textLength="21" lengthAdjust="spacingAndGlyphs">96.32</text>
<text x="675" y="833" textLength="21" lengthAdjust="spacingAndGlyphs">95.71</text>
<text x="866.5" y="887" textLength="21" lengthAdjust="spacingAndGlyphs">93.97</text>
<text x="881" y="974" textLength="21" lengthAdjust="spacingAndGlyphs">92.50</text>
</g>

<!-- callouts -->
<rect x="420" y="482" width="124" height="22" fill="rgba(0,0,0,0.25)"/>
<rect x="418.5" y="480.5" width="124" height="22" fill="#fff" stroke="#8a8a8a"/>
<polygon points="419,487 392,491 419,494" fill="#fff" stroke="#8a8a8a" stroke-width="0.8"/>
<line x1="419" y1="487.6" x2="419" y2="493.4" stroke="#fff" stroke-width="1.4"/>
<text x="422" y="496" font-size="13" font-weight="bold" textLength="111" lengthAdjust="spacingAndGlyphs">March Spike High</text>

<rect x="659" y="936" width="169" height="21" fill="rgba(0,0,0,0.25)"/>
<rect x="657.5" y="934.5" width="169" height="21" fill="#fff" stroke="#8a8a8a"/>
<polygon points="826,939 856,944 826,949" fill="#fff" stroke="#8a8a8a" stroke-width="0.8"/>
<line x1="826" y1="939.6" x2="826" y2="948.4" stroke="#fff" stroke-width="1.4"/>
<text x="661" y="949.5" font-size="13" font-weight="bold" textLength="155" lengthAdjust="spacingAndGlyphs">Bullish Engulfing Candle</text>

<rect x="840" y="524" width="313" height="160" fill="rgba(0,0,0,0.25)"/>
<rect x="838.5" y="522.5" width="313" height="160" fill="#fff" stroke="#8a8a8a"/>
<polygon points="990,682 996,741 1001,682" fill="#fff" stroke="#8a8a8a" stroke-width="0.8"/>
<line x1="990.6" y1="682.5" x2="1000.4" y2="682.5" stroke="#fff" stroke-width="1.4"/>
<g font-size="19.5" font-weight="bold" fill="#1212c8">
<text x="842" y="543.5" textLength="263" lengthAdjust="spacingAndGlyphs">The dollar has declined over</text>
<text x="842" y="565" textLength="275" lengthAdjust="spacingAndGlyphs">10% from the March high. The</text>
<text x="842" y="587" textLength="292" lengthAdjust="spacingAndGlyphs">trend is incredibly oversold and</text>
<text x="842" y="609" textLength="274" lengthAdjust="spacingAndGlyphs">due for a multi-week rebound.</text>
<text x="842" y="631" textLength="304" lengthAdjust="spacingAndGlyphs">Gold and precious metals should</text>
<text x="842" y="653" textLength="302" lengthAdjust="spacingAndGlyphs">correct as the dollar works off its</text>
<text x="842" y="675" textLength="255" lengthAdjust="spacingAndGlyphs">deeply oversold conditions.</text>
</g>

<rect x="1048" y="734" width="181" height="48" fill="rgba(0,0,0,0.25)"/>
<rect x="1046.5" y="732.5" width="181" height="48" fill="#fff" stroke="#8a8a8a"/>
<polygon points="1047,748 1007,752 1047,756" fill="#fff" stroke="#8a8a8a" stroke-width="0.8"/>
<line x1="1047" y1="748.6" x2="1047" y2="755.4" stroke="#fff" stroke-width="1.4"/>
<g font-size="18" font-weight="bold" fill="#0b6b0b">
<text x="1048" y="752" textLength="171" lengthAdjust="spacingAndGlyphs">Any rebound shoud</text>
<text x="1048" y="773" textLength="143" lengthAdjust="spacingAndGlyphs">stay under 98.00.</text>
</g>

<!-- MACD histogram -->
<path fill="none" stroke="#3f8fc2" stroke-width="4.4" d="M18.5 1092V1095M23.5 1092V1097M28.5 1092V1098M34.5 1092V1099M39.5 1092V1100M44.5 1092V1101M49.5 1092V1103M54.5 1092V1102M59.5 1092V1101M65.5 1092V1100M70.5 1092V1097M75.5 1092V1094M80.5 1092V1091M85.5 1092V1091M91.5 1092V1096M96.5 1092V1097M101.5 1092V1097M106.5 1092V1097M111.5 1092V1097M116.5 1092V1096M122.5 1092V1094M127.5 1092V1090M132.5 1092V1089M137.5 1092V1088M142.5 1092V1087M147.5 1092V1087M153.5 1092V1086M158.5 1092V1086M163.5 1092V1086M168.5 1092V1086M173.5 1092V1085M179.5 1092V1085M184.5 1092V1085M189.5 1092V1085M194.5 1092V1085M199.5 1092V1085M204.5 1092V1085M210.5 1092V1084M215.5 1092V1084M220.5 1092V1084M225.5 1092V1083M230.5 1092V1083M236.5 1092V1083M241.5 1092V1083M246.5 1092V1083M251.5 1092V1083M256.5 1092V1083M261.5 1092V1083M267.5 1092V1083M272.5 1092V1082M277.5 1092V1082M282.5 1092V1084M287.5 1092V1087M292.5 1092V1090M298.5 1092V1093M303.5 1092V1096M308.5 1092V1099M313.5 1092V1104M318.5 1092V1109M324.5 1092V1115M329.5 1092V1120M334.5 1092V1123M339.5 1092V1127M344.5 1092V1123M349.5 1092V1114M355.5 1092V1102M360.5 1092V1094M365.5 1092V1089M370.5 1092V1081M375.5 1092V1065M381.5 1092V1045M386.5 1092V1037M391.5 1092V1037M396.5 1092V1039M401.5 1092V1058M406.5 1092V1074M412.5 1092V1094M417.5 1092V1104M422.5 1092V1106M427.5 1092V1104M432.5 1092V1102M437.5 1092V1100M443.5 1092V1099M448.5 1092V1101M453.5 1092V1103M458.5 1092V1105M463.5 1092V1108M469.5 1092V1107M474.5 1092V1106M479.5 1092V1104M484.5 1092V1102M489.5 1092V1099M494.5 1092V1096M500.5 1092V1091M505.5 1092V1090M510.5 1092V1090M515.5 1092V1093M520.5 1092V1097M526.5 1092V1100M531.5 1092V1103M536.5 1092V1103M541.5 1092V1100M546.5 1092V1098M551.5 1092V1098M557.5 1092V1097M562.5 1092V1097M567.5 1092V1095M572.5 1092V1093M577.5 1092V1091M583.5 1092V1091M588.5 1092V1091M593.5 1092V1093M598.5 1092V1094M603.5 1092V1097M608.5 1092V1100M614.5 1092V1101M619.5 1092V1103M624.5 1092V1105M629.5 1092V1106M634.5 1092V1108M639.5 1092V1111M645.5 1092V1113M650.5 1092V1115M655.5 1092V1116M660.5 1092V1116M665.5 1092V1116M671.5 1092V1113M676.5 1092V1110M681.5 1092V1107M686.5 1092V1103M691.5 1092V1100M696.5 1092V1096M702.5 1092V1093M707.5 1092V1087M712.5 1092V1085M717.5 1092V1083M722.5 1092V1083M728.5 1092V1083M733.5 1092V1083M738.5 1092V1082M743.5 1092V1082M748.5 1092V1082M753.5 1092V1082M759.5 1092V1084M764.5 1092V1085M769.5 1092V1088M774.5 1092V1090M779.5 1092V1093M784.5 1092V1094M790.5 1092V1095M795.5 1092V1096M800.5 1092V1097M805.5 1092V1098M810.5 1092V1099M816.5 1092V1100M821.5 1092V1102M826.5 1092V1103M831.5 1092V1105M836.5 1092V1107M841.5 1092V1109M847.5 1092V1110M852.5 1092V1111M857.5 1092V1111M862.5 1092V1110M867.5 1092V1107M873.5 1092V1104M878.5 1092V1100M883.5 1092V1097M888.5 1092V1094"/>

<!-- MACD lines -->
<polyline fill="none" stroke="#e02020" stroke-width="1.2" points="17,1093 51,1102 74,1108 97,1111 120,1113 137,1109 171,1097 206,1085 240,1075 269,1062 292,1057 309,1063 327,1080 344,1103 355,1113 364,1110 375,1090 387,1063 399,1042 407,1037 419,1042 436,1050 453,1057 470,1067 488,1077 505,1077 522,1079 539,1087 562,1090 585,1088 603,1089 620,1097 637,1110 654,1130 671,1143 688,1147 711,1140 734,1128 757,1120 780,1118 803,1122 820,1127 838,1138 855,1152 872,1160 888,1163"/>
<polyline fill="none" stroke="#111" stroke-width="1.9" points="17,1096 33,1100 51,1113 65,1114 82,1107 91,1109 100,1116 117,1117 131,1107 148,1100 166,1094 183,1087 197,1079 206,1082 217,1077 237,1067 257,1059 278,1051 286,1053 298,1060 312,1078 327,1102 338,1133 347,1134 358,1117 370,1077 381,1037 390,1010 396,1001 401,1007 410,1027 419,1048 427,1060 436,1060 442,1057 453,1065 465,1080 476,1085 488,1084 499,1080 512,1076 522,1077 536,1093 548,1096 562,1092 573,1089 586,1083 596,1089 608,1096 622,1102 636,1118 651,1138 665,1157 677,1160 688,1150 703,1134 717,1130 731,1122 746,1115 757,1113 772,1117 789,1119 803,1123 818,1132 832,1145 846,1160 858,1168 869,1167 877,1169 888,1166"/>
<line x1="20" y1="1000.5" x2="28" y2="1000.5" stroke="#111" stroke-width="2"/>
<text class="lg" x="31" y="1003.5" textLength="217" lengthAdjust="spacingAndGlyphs">MACD(12,26,9) -0.978<tspan fill="#e02020">, -0.942</tspan><tspan fill="#3a94c4">, -0.035</tspan></text>

<!-- forecast path -->
<polyline fill="none" stroke="#2a7a20" stroke-width="2" stroke-linejoin="miter" points="903,910 930,826 955,879 997,752"/>
<line x1="997" y1="752" x2="1140.4" y2="1051.3" stroke="#e41010" stroke-width="2"/>
<polygon points="1146,1063 1145.3,1048.9 1135.4,1053.7" fill="#e41010"/>
</svg>
</body></html>
